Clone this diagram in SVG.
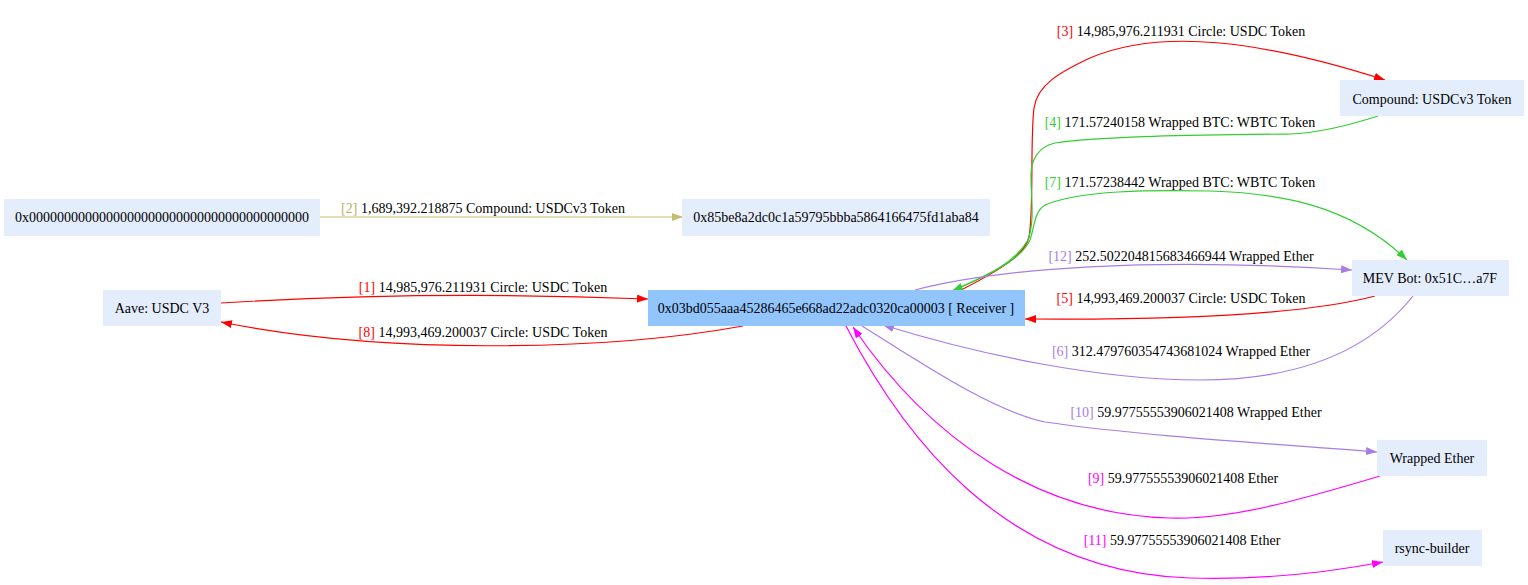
<svg xmlns="http://www.w3.org/2000/svg" width="1528" height="585" viewBox="0 0 1528 585">
<style>
text{font-family:"Liberation Serif","Times New Roman",serif;font-size:14px;fill:#000}
.n rect{fill:#e4edfc;stroke:none}
.n text{text-anchor:middle}
#receiver rect{fill:#93c5fd}
.e{fill:none;stroke-width:1.2}
.lbl{text-anchor:middle}
.red{stroke:#ff0000}.grn{stroke:#32cd32}.pur{stroke:#a97de6}.mag{stroke:#ff00ff}.kha{stroke:#c4bd72}
.tred{fill:#ff0000}.tgrn{fill:#32cd32}.tpur{fill:#a97de6}.tmag{fill:#ff00ff}.tkha{fill:#b9b064}
</style>
<defs>
<marker id="ar" markerUnits="userSpaceOnUse" markerWidth="12" markerHeight="8" refX="11" refY="4" orient="auto"><path d="M0,0 L11,4 L0,8 z" fill="#ff0000"/></marker>
<marker id="ag" markerUnits="userSpaceOnUse" markerWidth="12" markerHeight="8" refX="11" refY="4" orient="auto"><path d="M0,0 L11,4 L0,8 z" fill="#32cd32"/></marker>
<marker id="ap" markerUnits="userSpaceOnUse" markerWidth="12" markerHeight="8" refX="11" refY="4" orient="auto"><path d="M0,0 L11,4 L0,8 z" fill="#a97de6"/></marker>
<marker id="am" markerUnits="userSpaceOnUse" markerWidth="12" markerHeight="8" refX="11" refY="4" orient="auto"><path d="M0,0 L11,4 L0,8 z" fill="#ff00ff"/></marker>
<marker id="ak" markerUnits="userSpaceOnUse" markerWidth="12" markerHeight="8" refX="11" refY="4" orient="auto"><path d="M0,0 L11,4 L0,8 z" fill="#c4bd72"/></marker>
</defs>

<g id="connectors">
  <!-- [2] -->
  <path class="e kha" d="M320,217 L683,217" marker-end="url(#ak)"/>
  <text class="lbl" x="483" y="213"><tspan class="tkha">[2]</tspan> 1,689,392.218875 Compound: USDCv3 Token</text>
  <!-- [1] -->
  <path class="e red" d="M221,303 C350,295 500,293 648,299" marker-end="url(#ar)"/>
  <text class="lbl" x="483" y="292"><tspan class="tred">[1]</tspan> 14,985,976.211931 Circle: USDC Token</text>
  <!-- [8] -->
  <path class="e red" d="M743,326 C600,352 380,354 221,322" marker-end="url(#ar)"/>
  <text class="lbl" x="483" y="337"><tspan class="tred">[8]</tspan> 14,993,469.200037 Circle: USDC Token</text>
  <!-- [3] -->
  <path class="e red" d="M963,289 C1000,270 1025,255 1029,237 C1034,210 1030,140 1034,108 C1037,85 1060,72 1090,58 C1160,28 1260,40 1385,80" marker-end="url(#ar)"/>
  <text class="lbl" x="1181" y="36"><tspan class="tred">[3]</tspan> 14,985,976.211931 Circle: USDC Token</text>
  <!-- [4] -->
  <path class="e grn" d="M1378,116 C1350,125 1320,133 1290,134 C1200,135 1100,136 1055,143 C1038,147 1031,160 1031,175 C1031,200 1035,220 1028,240 C1015,262 990,275 952,291" marker-end="url(#ag)"/>
  <text class="lbl" x="1180" y="127"><tspan class="tgrn">[4]</tspan> 171.57240158 Wrapped BTC: WBTC Token</text>
  <!-- [7] -->
  <path class="e grn" d="M955,290 C985,275 1020,262 1030,240 C1035,225 1034,212 1045,205 C1080,190 1150,190 1210,191 C1280,193 1350,205 1407,260" marker-end="url(#ag)"/>
  <text class="lbl" x="1180" y="187"><tspan class="tgrn">[7]</tspan> 171.57238442 Wrapped BTC: WBTC Token</text>
  <!-- [12] -->
  <path class="e pur" d="M915,290 C1000,268 1150,257 1352,270" marker-end="url(#ap)"/>
  <text class="lbl" x="1181" y="261"><tspan class="tpur">[12]</tspan> 252.502204815683466944 Wrapped Ether</text>
  <!-- [5] -->
  <path class="e red" d="M1375,296 C1300,316 1150,320 1025,319" marker-end="url(#ar)"/>
  <text class="lbl" x="1181" y="303"><tspan class="tred">[5]</tspan> 14,993,469.200037 Circle: USDC Token</text>
  <!-- [6] -->
  <path class="e pur" d="M1413,296 C1370,350 1300,380 1200,380 C1100,380 980,355 883,325" marker-end="url(#ap)"/>
  <text class="lbl" x="1181" y="356"><tspan class="tpur">[6]</tspan> 312.479760354743681024 Wrapped Ether</text>
  <!-- [10] -->
  <path class="e pur" d="M862,326 C920,362 990,410 1045,422 C1150,437 1280,444 1377,452" marker-end="url(#ap)"/>
  <text class="lbl" x="1196" y="417"><tspan class="tpur">[10]</tspan> 59.97755553906021408 Wrapped Ether</text>
  <!-- [9] -->
  <path class="e mag" d="M1380,476 C1300,500 1230,520 1170,518 C1040,515 930,440 853,327" marker-end="url(#am)"/>
  <text class="lbl" x="1183" y="483"><tspan class="tmag">[9]</tspan> 59.97755553906021408 Ether</text>
  <!-- [11] -->
  <path class="e mag" d="M846,326 C900,430 1000,572 1190,578 C1260,580 1320,574 1383,562" marker-end="url(#am)"/>
  <text class="lbl" x="1182" y="545"><tspan class="tmag">[11]</tspan> 59.97755553906021408 Ether</text>
</g>

<g id="zero" class="n"><rect x="4" y="199" width="316" height="37"/><text x="162" y="222">0x0000000000000000000000000000000000000000</text></g>
<g id="n85be" class="n"><rect x="682" y="199" width="308" height="37"/><text x="836" y="222">0x85be8a2dc0c1a59795bbba5864166475fd1aba84</text></g>
<g id="aave" class="n"><rect x="103" y="290" width="118" height="36"/><text x="162" y="313">Aave: USDC V3</text></g>
<g id="receiver" class="n"><rect x="648" y="290" width="377" height="36"/><text x="836" y="313">0x03bd055aaa45286465e668ad22adc0320ca00003 [ Receiver ]</text></g>
<g id="compound" class="n"><rect x="1340" y="80" width="184" height="36"/><text x="1432" y="104">Compound: USDCv3 Token</text></g>
<g id="mevbot" class="n"><rect x="1352" y="260" width="157" height="36"/><text x="1430" y="283">MEV Bot: 0x51C…a7F</text></g>
<g id="weth" class="n"><rect x="1377" y="440" width="110" height="36"/><text x="1432" y="463">Wrapped Ether</text></g>
<g id="rsync" class="n"><rect x="1383" y="530" width="99" height="36"/><text x="1432" y="553">rsync-builder</text></g>
</svg>
